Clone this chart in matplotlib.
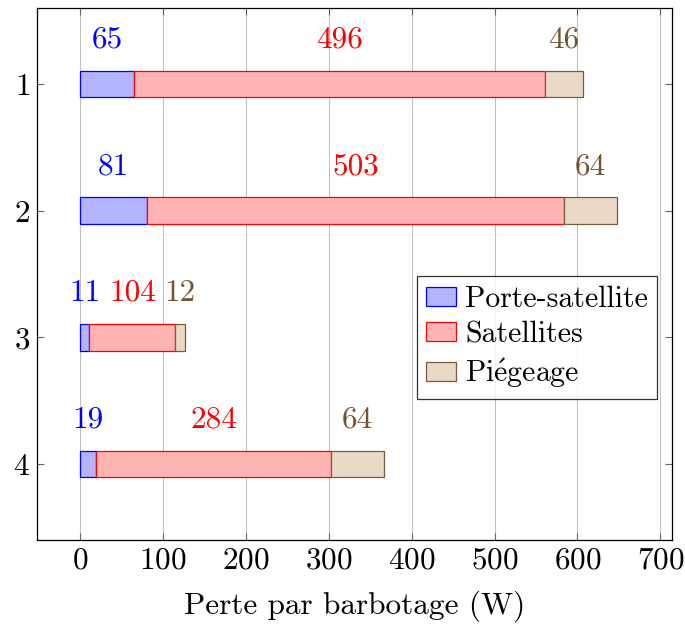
import matplotlib
matplotlib.use('Agg')
import matplotlib.pyplot as plt

plt.rcParams['font.family'] = ['cmr10', 'DejaVu Serif']
plt.rcParams['mathtext.fontset'] = 'cm'
plt.rcParams['axes.formatter.use_mathtext'] = True

rows = [1, 2, 3, 4]
porte_satellite = [65, 81, 11, 19]
satellites = [496, 503, 104, 284]
piegeage = [46, 64, 12, 64]
x_ticks = [0, 100, 200, 300, 400, 500, 600, 700]

series = [
    ('Porte-satellite', porte_satellite, '#b3b3ff', '#0000ff', '#0000ff'),
    ('Satellites', satellites, '#ffb3b3', '#ff0000', '#ff0000'),
    (r'Pi$\acute{\mathrm{e}}$geage', piegeage, '#ead9c6', '#7f5a3a', '#75532f'),
]

FS = 22.5

fig = plt.figure(figsize=(6.85, 6.26), dpi=100)
ax = fig.add_axes([37 / 685, 1 - 540 / 626, 635 / 685, 532 / 626])

left = [0] * len(rows)
for name, vals, fill, edge, txt in series:
    ax.barh(rows, vals, left=left, height=0.213, color=fill, edgecolor=edge,
            linewidth=0.9, label=name, zorder=3)
    for r, l, v in zip(rows, left, vals):
        ax.text(l + v / 2, r - 0.35, str(v), color=txt, fontsize=FS,
                ha='center', va='center', zorder=4)
    left = [a + b for a, b in zip(left, vals)]

ax.set_xlim(-52, 714)
ax.set_ylim(4.6, 0.4)
ax.set_xticks(x_ticks)
ax.set_yticks(rows)
ax.tick_params(direction='in', length=5, width=0.8, color='#666666',
               top=True, right=True, labelsize=FS, pad=5)
ax.grid(axis='x', color='#bfbfbf', linewidth=0.8, zorder=0)
ax.set_axisbelow(True)
for s in ax.spines.values():
    s.set_linewidth(0.9)
ax.set_xlabel('Perte par barbotage (W)', fontsize=FS, labelpad=11)

leg = ax.legend(loc='center right', bbox_to_anchor=(0.976, 0.38), fontsize=21.5,
                frameon=True, fancybox=False, edgecolor='black',
                handlelength=1.0, handleheight=0.6, handletextpad=0.3,
                borderpad=0.3, labelspacing=0.28, borderaxespad=0)
leg.get_frame().set_linewidth(0.9)

fig.savefig('out.png', dpi=100)
